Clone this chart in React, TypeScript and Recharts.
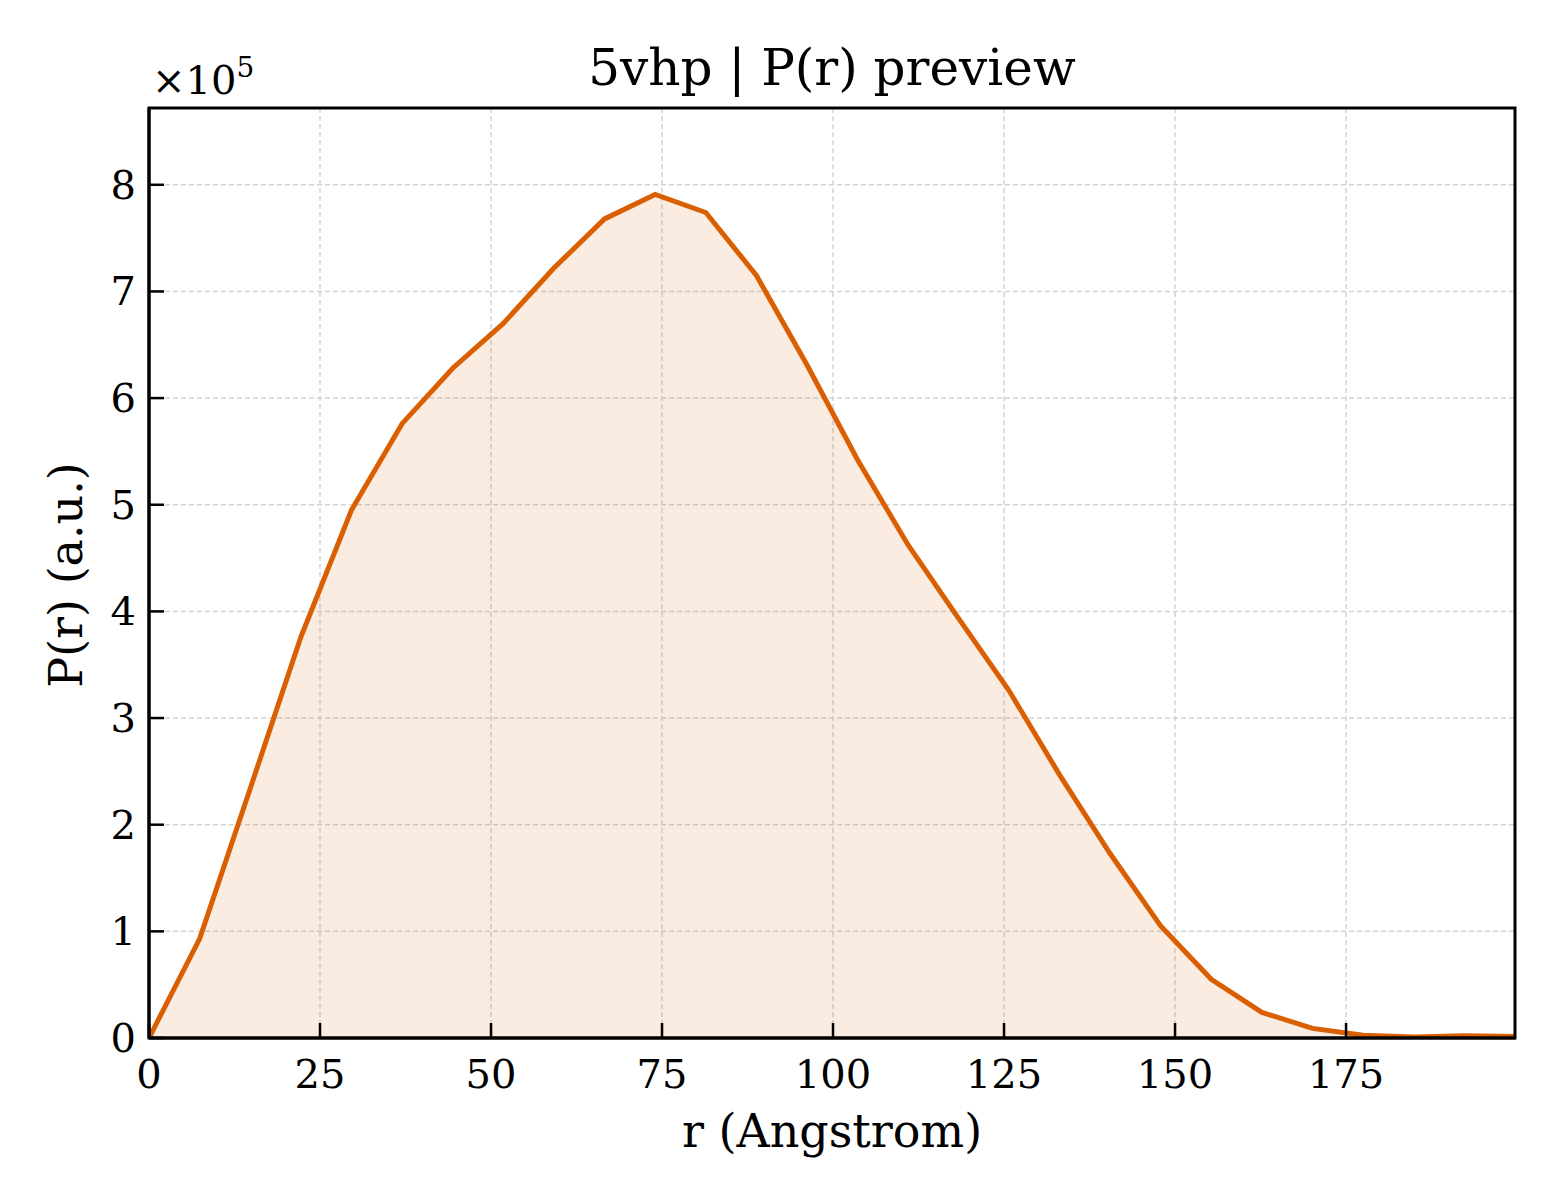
import React from 'react';
import { ComposedChart, Area, XAxis, YAxis, CartesianGrid, ReferenceArea } from 'recharts';

// r in Angstrom, P(r) in a.u.
const rValues = [
  0, 7.4, 14.8, 22.2, 29.6, 37.0, 44.4, 51.8, 59.2, 66.6, 74.0, 81.4, 88.8, 96.2,
  103.6, 111.0, 118.3, 125.7, 133.1, 140.5, 147.9, 155.3, 162.7, 170.1, 177.5, 184.9, 192.3, 199.7,
];
const prValues = [
  0, 93000, 234000, 376000, 495000, 576000, 628000, 670000, 722000, 768000, 791000, 774000,
  715000, 631000, 542000, 462000, 394000, 326000, 247000, 173000, 105000, 55000, 24000,
  9000, 2500, 1000, 2000, 1500,
];
const xTicks = [0, 25, 50, 75, 100, 125, 150, 175];
const yTicks = [0, 100000, 200000, 300000, 400000, 500000, 600000, 700000, 800000];

const data = rValues.map((r, i) => ({ r, pr: prValues[i] }));

const FONT = '"DejaVu Serif", serif';
const ORANGE = '#d95f02';

const XTick = (props: any) => {
  const { x, y, payload } = props;
  return (
    <g>
      <line x1={x} x2={x} y1={y} y2={y - 15} stroke="#000" strokeWidth={2.5} />
      <text x={x} y={y + 50} textAnchor="middle" fontFamily={FONT} fontSize={40} fill="#000">
        {payload.value}
      </text>
    </g>
  );
};

const YTick = (props: any) => {
  const { x, y, payload } = props;
  return (
    <g>
      <line x1={x} x2={x + 15} y1={y} y2={y} stroke="#000" strokeWidth={2.5} />
      <text x={x - 13} y={y + 14} textAnchor="end" fontFamily={FONT} fontSize={40} fill="#000">
        {payload.value / 100000}
      </text>
    </g>
  );
};

const textStyle: React.CSSProperties = {
  position: 'absolute',
  fontFamily: FONT,
  color: '#000',
  whiteSpace: 'nowrap',
  lineHeight: 1,
};

export default function App() {
  return (
    <div style={{ position: 'absolute', left: 0, top: 0, width: 1560, height: 1200, background: '#fff' }}>
      <ComposedChart
        width={1560}
        height={1200}
        data={data}
        margin={{ top: 108, right: 45, bottom: 82, left: 49 }}
      >
        <CartesianGrid stroke="#d4d4d4" strokeWidth={1.5} strokeDasharray="5 3" />
        <XAxis
          dataKey="r"
          type="number"
          domain={[0, 199.7]}
          ticks={xTicks}
          allowDataOverflow
          height={80}
          tickSize={0}
          tickMargin={0}
          tickLine={false}
          axisLine={{ stroke: '#000', strokeWidth: 3 }}
          tick={<XTick />}
          interval={0}
        />
        <YAxis
          type="number"
          domain={[0, 872000]}
          ticks={yTicks}
          allowDataOverflow
          width={100}
          tickSize={0}
          tickMargin={0}
          tickLine={false}
          axisLine={{ stroke: '#000', strokeWidth: 3 }}
          tick={<YTick />}
          interval={0}
        />
        <Area
          type="linear"
          dataKey="pr"
          stroke={ORANGE}
          strokeWidth={5}
          fill={ORANGE}
          fillOpacity={0.12}
          dot={false}
          activeDot={false}
          isAnimationActive={false}
        />
        <ReferenceArea x1={0} x2={199.7} y1={0} y2={872000} fill="none" stroke="#000" strokeWidth={3} />
      </ComposedChart>
      <div style={{ ...textStyle, left: 832, top: 68, fontSize: 50, transform: 'translate(-50%, -50%)' }}>
        5vhp | P(r) preview
      </div>
      <div style={{ ...textStyle, left: 832, top: 1131, fontSize: 46, transform: 'translate(-50%, -50%)' }}>
        r (Angstrom)
      </div>
      <div
        style={{
          ...textStyle,
          left: 66,
          top: 575,
          fontSize: 46,
          transform: 'translate(-50%, -50%) rotate(-90deg)',
        }}
      >
        P(r) (a.u.)
      </div>
      <div style={{ ...textStyle, left: 152, top: 80, fontSize: 40, transform: 'translate(0, -50%)' }}>
        ×10<sup style={{ fontSize: 28, verticalAlign: 'top', position: 'relative', top: -6 }}>5</sup>
      </div>
    </div>
  );
}
